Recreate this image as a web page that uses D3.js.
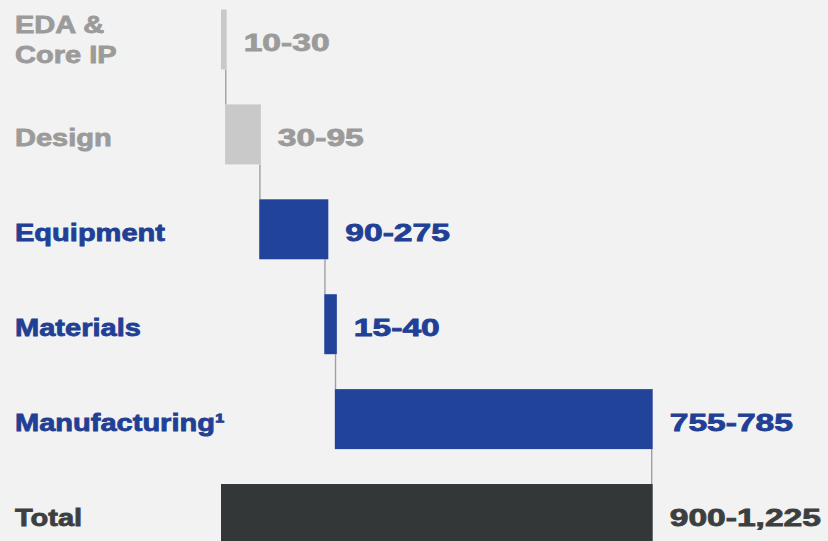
<!DOCTYPE html>
<html>
<head>
<meta charset="utf-8">
<script src="https://cdn.jsdelivr.net/npm/d3@7"></script>
<style>
  html, body { margin: 0; padding: 0; background: #f2f2f2; }
  svg { display: block; }
  text { font-family: "Liberation Sans", Arial, sans-serif; font-weight: bold; }
</style>
</head>
<body>
<div id="chart"></div>
<script>
// categories, shown ranges ($ billions) and bar spans
let categories = ["EDA & Core IP", "Design", "Equipment", "Materials", "Manufacturing¹", "Total"];
let labelLines = [["EDA &", "Core IP"], ["Design"], ["Equipment"], ["Materials"], ["Manufacturing¹"], ["Total"]];
let rangeLabels = ["10-30", "30-95", "90-275", "15-40", "755-785", "900-1,225"];
let barStart = [0, 10, 94, 254, 280, 0];
let barEnd = [14, 98, 264, 285, 1062, 1062];
let groups = ["grey", "grey", "blue", "blue", "blue", "total"];

let width = 828, height = 541;
let fills = { grey: "#c9c9c9", blue: "#21449a", total: "#333738" };
let textColors = { grey: "#9b9b9b", blue: "#213f94", total: "#3c3f40" };

let svg = d3.select("#chart")
    .append("svg")
    .attr("width", width)
    .attr("height", height);

let x = d3.scaleLinear().domain([0, 1062]).range([221, 652.7]);
let y = d3.scaleBand().domain(categories).range([9.5, 544]).paddingInner(0.368).paddingOuter(0);

let rows = categories.map((c, i) => ({
    name: c, lines: labelLines[i], label: rangeLabels[i],
    start: barStart[i], end: barEnd[i], group: groups[i]
}));

// connector lines between consecutive bars
let links = rows.slice(0, -1).map((d, i) => {
    let next = rows[i + 1];
    return {
        x: next.group === "total" ? x(d.end) - 1 : x(next.start) + 0.7,
        y1: y(d.name) + y.bandwidth(),
        y2: y(next.name)
    };
});

svg.selectAll(".link")
    .data(links)
    .enter().append("line")
    .attr("class", "link")
    .attr("x1", d => d.x).attr("x2", d => d.x)
    .attr("y1", d => d.y1).attr("y2", d => d.y2)
    .style("stroke", "#a0a0a0")
    .style("stroke-width", 1.4);

svg.selectAll(".bar")
    .data(rows)
    .enter().append("rect")
    .attr("class", "bar")
    .attr("x", d => x(d.start))
    .attr("y", d => y(d.name))
    .attr("width", d => x(d.end) - x(d.start))
    .attr("height", y.bandwidth())
    .style("fill", d => fills[d.group]);

// category labels on the left
let lab = svg.selectAll(".cat")
    .data(rows)
    .enter().append("text")
    .attr("class", "cat")
    .attr("transform", d => {
        let cy = y(d.name) + y.bandwidth() / 2 + 12 - (d.lines.length - 1) * 18;
        return "translate(15," + cy + ") scale(1.21,1)";
    })
    .style("font-size", "24px")
    .style("fill", d => textColors[d.group])
    .style("stroke", d => textColors[d.group])
    .style("stroke-width", 0.8);

lab.selectAll("tspan")
    .data(d => d.lines)
    .enter().append("tspan")
    .attr("x", 0)
    .attr("dy", (d, i) => i === 0 ? 0 : 30)
    .text(d => d);

// range labels to the right of each bar
svg.selectAll(".val")
    .data(rows)
    .enter().append("text")
    .attr("class", "val")
    .attr("transform", d => "translate(" + (x(d.end) + 17) + "," + (y(d.name) + y.bandwidth() / 2 + 11.5) + ") scale(1.4,1)")
    .style("font-size", "24px")
    .style("fill", d => textColors[d.group])
    .style("stroke", d => textColors[d.group])
    .style("stroke-width", 0.8)
    .text(d => d.label);
</script>
</body>
</html>
